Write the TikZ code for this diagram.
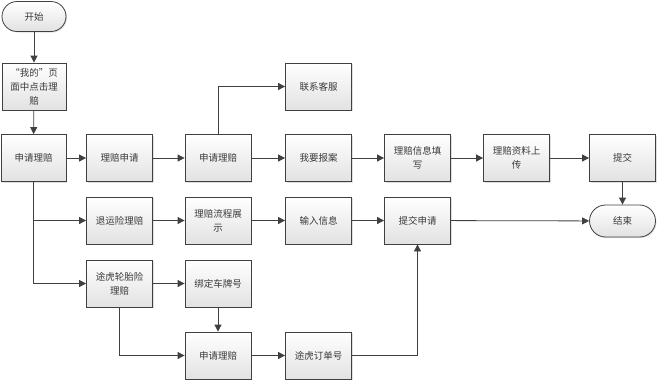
\documentclass[tikz,border=0pt]{standalone}
\usepackage{fontspec}
\setmainfont{Noto Sans CJK SC}
\usetikzlibrary{arrows.meta,shadows}
\definecolor{linec}{HTML}{404040}
\definecolor{boxbot}{HTML}{E2E2E2}
\definecolor{txt}{HTML}{3A3A3A}
\begin{document}
\begin{tikzpicture}[x=1pt,y=-1pt,
 box/.style={draw=linec, line width=0.8pt, top color=white, bottom color=boxbot,
   minimum width=66pt, minimum height=47pt, inner sep=2pt, align=center, text=txt,
   font=\fontsize{9.5}{14}\selectfont,
   drop shadow={shadow xshift=1pt,shadow yshift=-1pt,fill=black!25}},
 term/.style={box, minimum height=30pt, rounded corners=15pt},
 arr/.style={draw=linec, line width=0.8pt, -{Triangle[length=7pt,width=7pt]}}]
\useasboundingbox (0,0) rectangle (658,381);
\node[term, minimum width=64pt] (start) at (34,16.5) {开始};
\node[box, minimum width=64pt] (mine) at (34,86.5) {“我的”页\\面中点击理\\赔};
\node[box, minimum width=65pt] (a0) at (33.5,158) {申请理赔};
\node[box] (a1) at (119.5,158) {理赔申请};
\node[box] (a2) at (218,158) {申请理赔};
\node[box] (kf) at (318.5,86.5) {联系客服};
\node[box] (a3) at (318.5,158) {我要报案};
\node[box] (a4) at (417.5,158) {理赔信息填\\写};
\node[box] (a5) at (516.5,158) {理赔资料上\\传};
\node[box] (a6) at (622.5,158) {提交};
\node[term, minimum height=32pt, rounded corners=16pt] (end) at (622.5,221) {结束};
\node[box] (b1) at (119.5,220.5) {退运险理赔};
\node[box] (b2) at (218,220.5) {理赔流程展\\示};
\node[box] (b3) at (318.5,220.5) {输入信息};
\node[box] (b4) at (417.5,220.5) {提交申请};
\node[box] (c1) at (119.5,283.5) {途虎轮胎险\\理赔};
\node[box] (c2) at (218,283.5) {绑定车牌号};
\node[box] (d2) at (218,355.5) {申请理赔};
\node[box] (d3) at (318.5,355.5) {途虎订单号};
\draw[arr] (start) -- (mine);
\draw[arr] (mine) -- (a0);
\draw[arr] (a0) -- (a1);
\draw[arr] (a1) -- (a2);
\draw[arr] (a2) -- (a3);
\draw[arr] (a3) -- (a4);
\draw[arr] (a4) -- (a5);
\draw[arr] (a5) -- (a6);
\draw[arr] (a6) -- (end);
\draw[arr] (a2.north) |- (kf.west);
\draw[arr] (a0.south) |- (b1.west);
\draw[arr] (a0.south) |- (c1.west);
\draw[arr] (b1) -- (b2);
\draw[arr] (b2) -- (b3);
\draw[arr] (b3) -- (b4);
\draw[arr] (b4) -- (end);
\draw[arr] (c1) -- (c2);
\draw[arr] (c2) -- (d2);
\draw[arr] (c1.south) |- (d2.west);
\draw[arr] (d2) -- (d3);
\draw[arr] (d3.east) -| (b4.south);
\end{tikzpicture}
\end{document}
